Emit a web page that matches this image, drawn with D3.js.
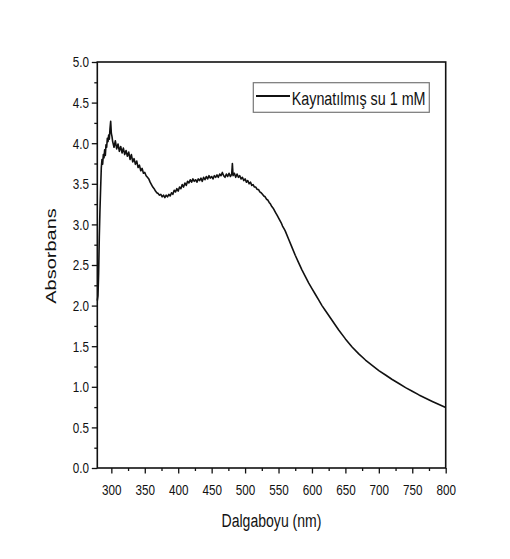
<!DOCTYPE html>
<html>
<head>
<meta charset="utf-8">
<script src="https://cdn.jsdelivr.net/npm/d3@7"></script>
<style>
  html, body { margin: 0; padding: 0; background: #ffffff; }
  svg { display: block; }
  text { font-family: "Liberation Sans", Arial, sans-serif; fill: #111; }
</style>
</head>
<body>
<svg id="chart" width="510" height="559"></svg>
<script>
// ---- data ----
const wavelength = [
  279, 280, 281, 282, 283, 284, 285, 286, 287, 288, 289, 290, 291, 292, 293, 294, 295, 296, 297, 298, 299, 300, 301, 302,
  304, 306, 308, 310, 312, 314, 316, 318, 320, 322, 324, 326, 328, 330, 332, 334, 336, 338, 340,
  342, 344, 346, 348, 350, 352, 354, 356, 358, 360, 362, 364, 366, 368, 370, 372, 374, 376, 378, 380,
  382, 384, 386, 388, 390, 392, 394, 396, 398, 400, 402, 404, 406, 408, 410, 412, 414, 416, 418, 420,
  422, 424, 426, 428, 430, 432, 434, 436, 438, 440, 442, 444, 446, 448, 450, 452, 454, 456, 458, 460,
  462, 464, 466, 468, 470, 472, 474, 476, 478, 480, 481, 482, 484, 486, 488, 490, 492, 494, 496, 498, 500,
  502, 504, 506, 508, 510, 512, 514, 516, 518, 520, 522, 524, 526, 528, 530, 532, 534, 536, 538, 540,
  542, 544, 546, 548, 550, 552, 554, 556, 558, 560, 565, 570, 575, 580, 585, 590, 595, 600, 605, 610, 615,
  620, 630, 640, 650, 660, 670, 680, 690, 700, 710, 720, 730, 740, 750, 760, 770, 780, 790, 800
];
const absorbance = [
  2.06, 2.12, 2.40, 2.85, 3.18, 3.45, 3.70, 3.80, 3.74, 3.86, 3.82, 3.92, 3.85, 3.98, 3.95, 4.06, 4.02, 4.10, 4.05, 4.18, 4.27, 4.12, 4.08, 4.02,
  3.95, 4.03, 3.93, 3.99, 3.90, 3.96, 3.88, 3.94, 3.86, 3.91, 3.84, 3.89, 3.80, 3.86, 3.77, 3.81, 3.74, 3.78, 3.70,
  3.73, 3.66, 3.69, 3.63, 3.64, 3.60, 3.58, 3.56, 3.52, 3.49, 3.46, 3.44, 3.41, 3.39, 3.38, 3.36, 3.37, 3.34, 3.36, 3.33,
  3.36, 3.34, 3.37, 3.35, 3.39, 3.37, 3.42, 3.40, 3.44, 3.41, 3.46, 3.44, 3.49, 3.46, 3.51, 3.48, 3.53, 3.51, 3.55, 3.52,
  3.56, 3.53, 3.55, 3.52, 3.56, 3.54, 3.57, 3.53, 3.58, 3.55, 3.59, 3.56, 3.60, 3.57, 3.59, 3.56, 3.60, 3.58, 3.61, 3.58,
  3.62, 3.60, 3.64, 3.60, 3.58, 3.62, 3.59, 3.63, 3.59, 3.62, 3.75, 3.60, 3.63, 3.58, 3.62, 3.58, 3.60, 3.56, 3.58, 3.54, 3.56,
  3.52, 3.54, 3.50, 3.52, 3.48, 3.49, 3.46, 3.46, 3.43, 3.43, 3.40, 3.39, 3.37, 3.35, 3.34, 3.31, 3.30, 3.27, 3.25, 3.22,
  3.20, 3.17, 3.14, 3.11, 3.08, 3.05, 3.02, 2.98, 2.95, 2.92, 2.82, 2.72, 2.62, 2.53, 2.44, 2.36, 2.28, 2.21, 2.14, 2.07, 2.00,
  1.94, 1.82, 1.70, 1.59, 1.49, 1.405, 1.33, 1.265, 1.20, 1.145, 1.09, 1.04, 0.99, 0.945, 0.90, 0.86, 0.82, 0.782, 0.745
];
const xTicks = [300, 350, 400, 450, 500, 550, 600, 650, 700, 750, 800];
const xMinorTicks = [325, 375, 425, 475, 525, 575, 625, 675, 725, 775];
const yTicks = [0.0, 0.5, 1.0, 1.5, 2.0, 2.5, 3.0, 3.5, 4.0, 4.5, 5.0];
const yMinorTicks = [0.25, 0.75, 1.25, 1.75, 2.25, 2.75, 3.25, 3.75, 4.25, 4.75];
const seriesName = "Kaynatılmış su 1 mM";
const xTitle = "Dalgaboyu (nm)";
const yTitle = "Absorbans";

// ---- layout ----
const svg = d3.select("#chart");
const L = 97.3, R = 445.7, T = 62, B = 468;
const SX = 0.78; // horizontal squeeze of the reference text

const x = d3.scaleLinear().domain([279, 800]).range([L, R]);
const y = d3.scaleLinear().domain([0, 5]).range([B, T]);

// curve
const pts = wavelength.map((w, i) => [w, absorbance[i]]);
svg.append("path")
  .datum(pts)
  .attr("fill", "none")
  .attr("stroke", "#111")
  .attr("stroke-width", 1.6)
  .attr("stroke-linejoin", "round")
  .attr("d", d3.line().x(d => x(d[0])).y(d => y(d[1])));

// axes: bottom
const gx = svg.append("g").attr("transform", `translate(0,${B})`)
  .call(d3.axisBottom(x).tickValues(xTicks).tickSize(5.5).tickFormat(d3.format("d")));
gx.selectAll("text").attr("y", 27).attr("dy", 0)
  .attr("transform", `scale(${SX},1)`)
  .style("font-size", "15px");
svg.append("g").attr("transform", `translate(0,${B})`)
  .call(d3.axisBottom(x).tickValues(xMinorTicks).tickSize(3).tickFormat(""));

// axes: left
const gy = svg.append("g").attr("transform", `translate(${L},0)`)
  .call(d3.axisLeft(y).tickValues(yTicks).tickSize(5.5).tickFormat(d3.format(".1f")));
gy.selectAll("text").attr("x", -8.3 / SX)
  .attr("transform", `scale(${SX},1)`)
  .style("font-size", "15px");
svg.append("g").attr("transform", `translate(${L},0)`)
  .call(d3.axisLeft(y).tickValues(yMinorTicks).tickSize(3).tickFormat(""));

svg.selectAll(".domain").remove();
svg.selectAll(".tick line").attr("stroke", "#111").attr("stroke-width", 1.3);

// frame
svg.append("rect")
  .attr("x", L).attr("y", T).attr("width", R - L).attr("height", B - T)
  .attr("fill", "none").attr("stroke", "#111").attr("stroke-width", 1.6);

// titles
svg.append("text")
  .attr("transform", `translate(${(L + R) / 2},527) scale(0.74,1)`)
  .attr("text-anchor", "middle")
  .style("font-size", "19px")
  .text(xTitle);

svg.append("text")
  .attr("transform", `translate(55.5,256) scale(0.72,1) rotate(-90)`)
  .attr("text-anchor", "middle")
  .style("font-size", "20px")
  .text(yTitle);

// legend
const lg = svg.append("g");
lg.append("rect")
  .attr("x", 253.3).attr("y", 82.7).attr("width", 176).attr("height", 29.6)
  .attr("fill", "#fff").attr("stroke", "#777").attr("stroke-width", 1.2);
lg.append("line")
  .attr("x1", 256).attr("x2", 290).attr("y1", 96).attr("y2", 96)
  .attr("stroke", "#111").attr("stroke-width", 1.8);
lg.append("text")
  .attr("transform", `translate(291.7,105) scale(0.775,1)`)
  .style("font-size", "18.5px")
  .text(seriesName);
</script>
</body>
</html>
